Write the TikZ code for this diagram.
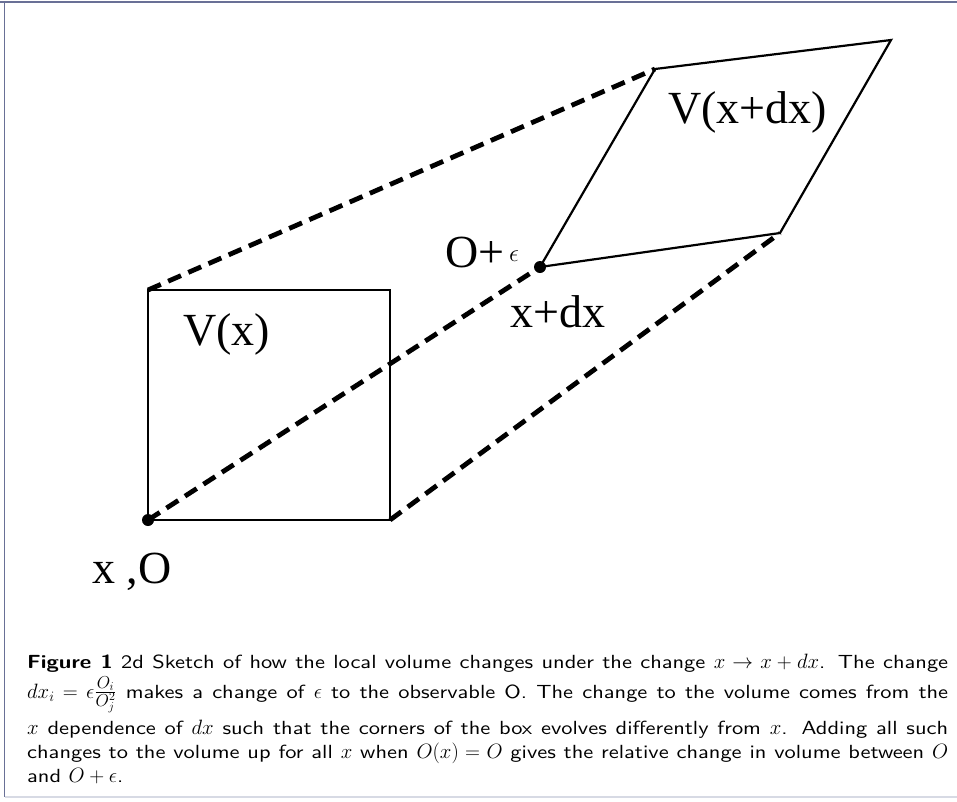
\documentclass[tikz,border=0pt]{standalone}
\usepackage{fontspec}
\newfontfamily\timesf{Liberation Serif}
\newfontfamily\capsf{lmsans10-regular.otf}[FakeStretch=1.18, BoldFont=lmsans10-bold.otf]
\newcommand\capm[1]{{\fontsize{22}{24}\selectfont$#1$}}
\newcommand\capfrac[2]{{\fontsize{26}{28}\selectfont$\frac{#1}{#2}$}}
\definecolor{framec}{RGB}{105,112,150}
\definecolor{framelight}{RGB}{215,218,228}
\tikzset{
  solidline/.style={line width=2.2pt, line join=miter},
  dashline/.style={line width=4.8pt, dash pattern=on 14pt off 8pt},
  lab/.style={inner sep=0pt, font=\timesf\fontsize{46}{50}\selectfont},
  dot/.style={circle, fill=black, inner sep=0pt, minimum size=12pt},
  capline/.style={inner sep=0pt, anchor=base west, font=\capsf\fontsize{19}{24}\selectfont},
}
\begin{document}
\begin{tikzpicture}[x=1pt,y=-1pt]
\useasboundingbox (0,0) rectangle (957,801);
% frame
\draw[framec, line width=2pt] (0,2) -- (957,2);
\draw[framec, line width=1.5pt] (4.5,2) -- (4.5,797);
\draw[framelight, line width=1.5pt] (4.5,797) -- (957,797);
% corners
\coordinate (A) at (148,520);
\coordinate (B) at (390,520);
\coordinate (C) at (390,290);
\coordinate (D) at (148,290);
\coordinate (E) at (540,267);
\coordinate (F) at (780,233);
\coordinate (G) at (891,40);
\coordinate (H) at (655,69);
% dashed connectors
\draw[dashline] (D) -- (H);
\draw[dashline] (A) -- (E);
\draw[dashline] (B) -- (F);
% boxes
\draw[solidline] (A) -- (B) -- (C) -- (D) -- cycle;
\draw[solidline] (E) -- (F) -- (G) -- (H) -- cycle;
% dots
\node[dot] (dA) at (A) {};
\node[dot] (dE) at (E) {};
% labels
\node[lab, anchor=base west] (vx) at (183,345) {V(x)};
\node[lab, anchor=base west] (vxdx) at (668,123) {V(x+dx)};
\node[lab, anchor=base west] (oplus) at (445,267) {O+};
\node[inner sep=0pt, anchor=base west, font=\fontsize{41}{44}\selectfont] (eps) at (509,261) {$\epsilon$};
\node[lab, anchor=base west] (xdx) at (510,327) {x+dx};
\node[lab, anchor=base west] (xo) at (92,583) {x ,O};
% caption
\node[capline] (cap1) at (27,668) {\makebox[921pt][s]{\textbf{Figure 1} 2d Sketch of how the local volume changes under the change \capm{x\rightarrow x+dx}. The change}};
\node[capline] (cap2) at (27,698) {\makebox[921pt][s]{\capm{dx_i=\epsilon}\capfrac{O_i}{O_j^2} makes a change of \capm{\epsilon} to the observable O. The change to the volume comes from the}};
\node[capline] (cap3) at (27,734) {\makebox[921pt][s]{\capm{x} dependence of \capm{dx} such that the corners of the box evolves differently from \capm{x}. Adding all such}};
\node[capline] (cap4) at (27,758) {\makebox[921pt][s]{changes to the volume up for all \capm{x} when \capm{O(x)=O} gives the relative change in volume between \capm{O}}};
\node[capline] (cap5) at (27,782) {and \capm{O+\epsilon}.};
\end{tikzpicture}
\end{document}
